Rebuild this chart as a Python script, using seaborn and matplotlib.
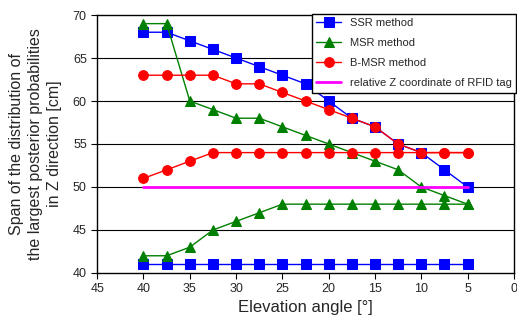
import matplotlib
matplotlib.use("Agg")
import matplotlib.pyplot as plt
import seaborn as sns
import pandas as pd

# elevation angles [deg]
angles = [40, 37.5, 35, 32.5, 30, 27.5, 25, 22.5, 20, 17.5, 15, 12.5, 10, 7.5, 5]

# upper / lower bounds of the span for each method
ssr_upper = [68, 68, 67, 66, 65, 64, 63, 62, 60, 58, 57, 55, 54, 52, 50]
ssr_lower = [41, 41, 41, 41, 41, 41, 41, 41, 41, 41, 41, 41, 41, 41, 41]
msr_upper = [69, 69, 60, 59, 58, 58, 57, 56, 55, 54, 53, 52, 50, 49, 48]
msr_lower = [42, 42, 43, 45, 46, 47, 48, 48, 48, 48, 48, 48, 48, 48, 48]
bmsr_upper = [63, 63, 63, 63, 62, 62, 61, 60, 59, 58, 57, 55, 54, 54, 54]
bmsr_lower = [51, 52, 53, 54, 54, 54, 54, 54, 54, 54, 54, 54, 54, 54, 54]
tag_angles = [40, 5]
tag_z = [50, 50]

sns.set_style("white")
plt.rcParams['font.family'] = ['Liberation Sans', 'DejaVu Sans']

fig = plt.figure(figsize=(5.17, 3.2), dpi=100)
ax = fig.add_axes([0.188, 0.147, 0.806, 0.806])

# horizontal grid lines like the original
for yv in [45, 50, 55, 60, 65]:
    ax.axhline(yv, color='black', lw=0.8, zorder=0)

series = [
    ("SSR method", ssr_upper, ssr_lower, "#0000ff", "s"),
    ("MSR method", msr_upper, msr_lower, "#008000", "^"),
    ("B-MSR method", bmsr_upper, bmsr_lower, "#ff0000", "o"),
]

for name, up, lo, col, mk in series:
    df = pd.DataFrame({"angle": angles, "up": up, "lo": lo})
    sns.lineplot(data=df, x="angle", y="up", ax=ax, color=col, marker=mk,
                 markersize=7, markeredgecolor=col, lw=1, label=name,
                 sort=False)
    sns.lineplot(data=df, x="angle", y="lo", ax=ax, color=col, marker=mk,
                 markersize=7, markeredgecolor=col, lw=1, sort=False)

sns.lineplot(x=tag_angles, y=tag_z, ax=ax, color="#ff00ff", lw=2,
             label="relative Z coordinate of RFID tag")

ax.set_xlim(45, 0)
ax.set_ylim(40, 70)
ax.set_xticks(range(45, -1, -5))
ax.set_yticks(range(40, 71, 5))
ax.tick_params(axis='both', labelsize=9, direction='out', length=4,
               width=0.8, color='black', bottom=True, left=True)
for s in ax.spines.values():
    s.set_color('black')
    s.set_linewidth(1)

ax.set_xlabel("Elevation angle [°]", fontsize=12, labelpad=3)
ax.set_ylabel("Span of the distribution of\nthe largest posterior probabilities\nin Z direction [cm]",
              fontsize=11.5, labelpad=8, linespacing=1.3)

leg = ax.legend(loc='upper right', bbox_to_anchor=(1.005, 1.005),
                fontsize=8, frameon=True, fancybox=False, framealpha=1,
                edgecolor='black', borderaxespad=0, handlelength=2.2,
                labelspacing=0.9)
leg.get_frame().set_linewidth(1)

fig.savefig("out.png", dpi=100)
